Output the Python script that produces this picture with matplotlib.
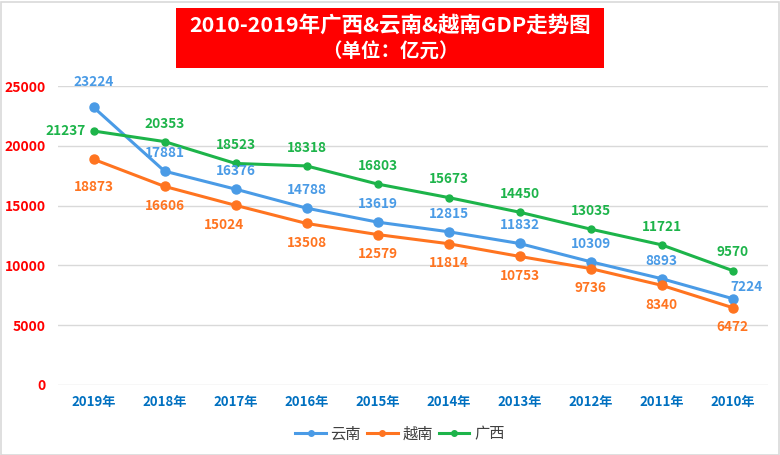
import matplotlib
matplotlib.use("Agg")
import matplotlib.pyplot as plt
from matplotlib.patches import Rectangle
from matplotlib.lines import Line2D

plt.rcParams['font.family'] = ['Noto Sans CJK SC', 'DejaVu Sans']

years = ["2019年", "2018年", "2017年", "2016年", "2015年", "2014年", "2013年", "2012年", "2011年", "2010年"]
yunnan = [23224, 17881, 16376, 14788, 13619, 12815, 11832, 10309, 8893, 7224]
vietnam = [18873, 16606, 15024, 13508, 12579, 11814, 10753, 9736, 8340, 6472]
guangxi = [21237, 20353, 18523, 18318, 16803, 15673, 14450, 13035, 11721, 9570]
yticks = [0, 5000, 10000, 15000, 20000, 25000]

c_blue = "#4A9BE6"
c_orange = "#FF7420"
c_green = "#1DB44A"

fig = plt.figure(figsize=(7.8, 4.55), dpi=100)
W, H = 780, 455
ax = fig.add_axes([58 / W, 1 - 385 / H, 710 / W, (385 - 86) / H])

x = list(range(len(years)))
ax.plot(x, yunnan, color=c_blue, lw=2.2, marker='o', ms=6.5, zorder=3)
ax.plot(x, vietnam, color=c_orange, lw=2.2, marker='o', ms=6.5, zorder=3)
ax.plot(x, guangxi, color=c_green, lw=2.2, marker='o', ms=5, zorder=3)

fs = 9.8
for i, v in enumerate(yunnan):
    dy = 13 if i > 0 else 18
    dx = 0
    if i == len(x) - 1:
        dx, dy = 10, 8
    ax.annotate(str(v), (i, v), xytext=(dx, dy), textcoords='offset points',
                ha='center', va='center', color=c_blue, fontsize=fs, fontweight='bold')
for i, v in enumerate(vietnam):
    dy = -14 if i > 0 else -20
    dx = -8 if i == 2 else 0
    ax.annotate(str(v), (i, v), xytext=(dx, dy), textcoords='offset points',
                ha='center', va='center', color=c_orange, fontsize=fs, fontweight='bold')
for i, v in enumerate(guangxi):
    if i == 0:
        ax.annotate(str(v), (i, v), xytext=(-20, 0), textcoords='offset points',
                    ha='center', va='center', color=c_green, fontsize=fs, fontweight='bold')
    else:
        ax.annotate(str(v), (i, v), xytext=(0, 13), textcoords='offset points',
                    ha='center', va='center', color=c_green, fontsize=fs, fontweight='bold')

ax.set_xlim(-0.5, len(x) - 0.5)
ax.set_ylim(0, 25000)
ax.set_yticks(yticks)
ax.set_yticklabels([str(t) for t in yticks], color="#FF0000", fontsize=10, fontweight='bold')
ax.set_xticks(x)
ax.set_xticklabels(years, color="#0070C0", fontsize=9.5, fontweight='bold')
ax.tick_params(axis='both', length=0)
ax.tick_params(axis='y', pad=9)
ax.tick_params(axis='x', pad=7)
ax.grid(axis='y', color="#D9D9D9", lw=1)
for s in ax.spines.values():
    s.set_visible(False)
ax.set_axisbelow(True)

handles = [Line2D([], [], color=c, lw=2.2, marker='o', ms=4) for c in (c_blue, c_orange, c_green)]
leg = fig.legend(handles, ["云南", "越南", "广西"], loc='center', bbox_to_anchor=(400 / W, 1 - 434 / H),
                 ncol=3, frameon=False, fontsize=11, handlelength=2.0, columnspacing=0.4, handletextpad=0.3)
for t in leg.get_texts():
    t.set_color("#404040")

# title box
fig.patches.append(Rectangle((176 / W, 1 - 68 / H), (604 - 176) / W, 60 / H,
                             transform=fig.transFigure, facecolor="#FF0000", edgecolor="none"))
fig.text(390 / W, 1 - 25 / H, "2010-2019年广西&云南&越南GDP走势图", ha='center', va='center',
         color='white', fontsize=15.5, fontweight='bold')
fig.text(390 / W, 1 - 52 / H, "（单位：亿元）", ha='center', va='center',
         color='white', fontsize=14, fontweight='bold')

# figure border
fig.patches.append(Rectangle((0.5 / W, 0.5 / H), (W - 2) / W, (H - 2) / H,
                             transform=fig.transFigure, facecolor='none', edgecolor="#D9D9D9", lw=1.2))

fig.savefig("out.png", dpi=100)
